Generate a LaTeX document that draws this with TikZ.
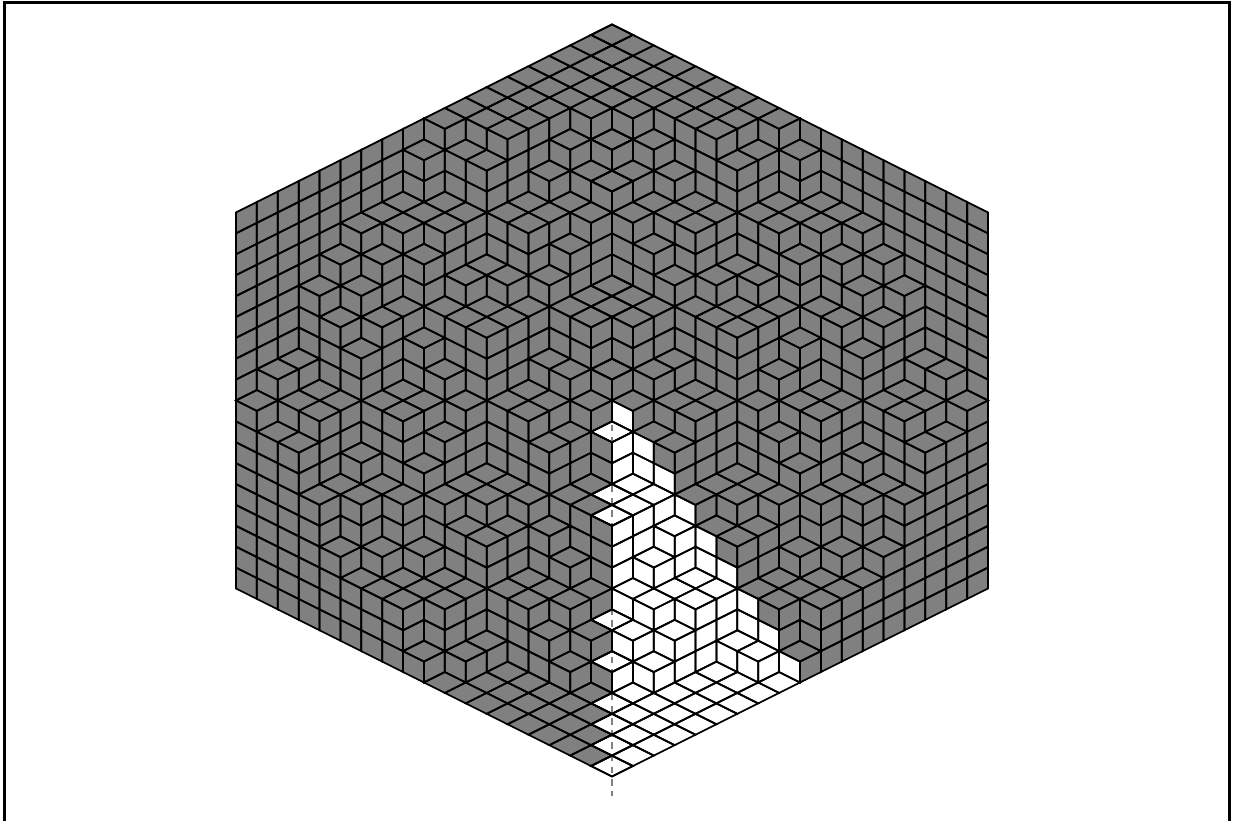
\documentclass[tikz,border=0pt]{standalone}
\usepackage{tikz}

\def\heights{{{18,18},
{18,18},
{18,18,18},
{18,18,18,18},
{18,18,18,18,17},
{18,18,18,17,16,16},
{18,18,18,16,15,15,12},
{18,18,18,15,15,14,12,12},
{18,17,17,15,15,13,12,12,10},
{17,15,15,13,13,12,10,10,9,8},
{15,15,15,13,12,12,9,9,8,6,6},
{15,15,14,12,12,12,9,9,8,6,6,6},
{15,14,12,11,10,9,6,6,6,5,4,3,2},
{14,13,12,9,9,8,6,6,5,3,3,3,2,1},
{13,12,11,9,9,7,6,5,5,3,3,2,1,0,0},
{10,9,9,7,6,6,4,3,3,1,0,0,0,0,0,0},
{10,9,9,6,6,4,3,3,3,1,0,0,0,0,0,0,0},
{9,8,8,6,4,3,3,3,1,0,0,0,0,0,0,0,0,0},
{0,0,0,0,0,0,0,0,0,0,0,0,0,0,0,0,0,0,0}}}

\newcommand{\flatface}[4]{\draw[#1] ({#2-#3},{2*#4-#2-#3}) -- ++(1,-1) -- ++(-1,-1) -- ++(-1,1) -- cycle;}
\newcommand{\faceA}[3]{\draw[edge] ({#1+1-#2},{2*#3-#1-#2-1}) -- ++(-1,-1) -- ++(0,2) -- ++(1,1) -- cycle;}
\newcommand{\faceB}[3]{\draw[edge] ({#1-#2-1},{2*#3-#1-#2-1}) -- ++(1,-1) -- ++(0,2) -- ++(-1,1) -- cycle;}

\begin{document}
\begin{tikzpicture}[
    x=0.4178cm, y=0.2089cm,
    edge/.style={black, line width=1pt},
    axisfill/.style={fill=white, draw=none},
    axisline/.style={gray, line width=0.8pt, dash pattern=on 3.7pt off 3.25pt},
    frameline/.style={black, line width=1.7pt}
]
\useasboundingbox (-29.296,-40.26) rectangle (29.823,38.343);
\draw[frameline] (-29.08,-40.26) -- (-29.08,38.15) -- (29.58,38.15) -- (29.58,-40.26);

\fill[black!50] (0,36) -- (18,18) -- (18,-18) -- (0,-36) -- (-18,-18) -- (-18,18) -- cycle;
\fill[white] (0,0) \foreach \d in {1,...,9} { -- ++(1,-1) -- ++(0,-2) } -- (0,-36) -- cycle;
\foreach \a in {9,...,17}{
    \pgfmathtruncatemacro{\h}{\heights[\a][\a]}
    \flatface{axisfill}{\a}{\a}{\h}
}
\draw[axisline] (0,0) -- (0,-37.87);

\foreach \s in {1,-1}{
\begin{scope}[xscale=\s]
\foreach \a in {0,...,17}{
    \pgfmathtruncatemacro{\h}{\heights[\a][0]}
    \ifnum\h<18
        \foreach \z in {\h,...,17}{\faceB{\a}{-1}{\z}}
    \fi
    \foreach \b in {0,...,\a}{
        \pgfmathtruncatemacro{\h}{\heights[\a][\b]}
        \pgfmathtruncatemacro{\hm}{\h-1}
        \flatface{edge}{\a}{\b}{\h}
        \pgfmathtruncatemacro{\hn}{\heights[\a+1][\b]}
        \ifnum\hn<\h
            \foreach \z in {\hn,...,\hm}{\faceA{\a}{\b}{\z}}
        \fi
        \ifnum\b<\a
            \pgfmathtruncatemacro{\hn}{\heights[\a][\b+1]}
            \ifnum\hn<\h
                \foreach \z in {\hn,...,\hm}{\faceB{\a}{\b}{\z}}
            \fi
        \fi
    }
}
\end{scope}
}
\end{tikzpicture}
\end{document}
